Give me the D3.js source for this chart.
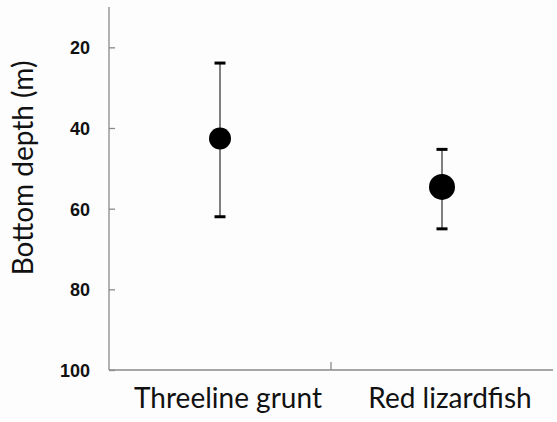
<!DOCTYPE html>
<html>
<head>
<meta charset="utf-8">
<script src="https://cdn.jsdelivr.net/npm/d3@7"></script>
<style>
  body { margin: 0; background: #fdfdfd; }
  svg { display: block; }
</style>
</head>
<body>
<div id="chart"></div>
<script>
// data
const species = ["Threeline grunt", "Red lizardfish"];
const meanDepth = [42.6, 54.6];
const upperDepth = [23.9, 45.3];
const lowerDepth = [62.0, 65.0];
const markerRadius = [11, 13];
const yTicks = [20, 40, 60, 80, 100];

const width = 557, height = 422;
const margin = { left: 109, right: 4, top: 7, bottom: 52 };

const svg = d3.select("#chart").append("svg")
  .attr("width", width)
  .attr("height", height);

const x = d3.scaleBand()
  .domain(species)
  .range([margin.left, width - margin.right]);

const y = d3.scaleLinear()
  .domain([10, 100])
  .range([margin.top, height - margin.bottom]);

const axisColor = "#8a8a8a";
const labelFont = "Lato, 'Open Sans', sans-serif";

// y axis, ticks pointing inward
const yAxis = svg.append("g")
  .attr("transform", "translate(" + margin.left + ",0)")
  .call(d3.axisRight(y).tickValues(yTicks).tickSize(6).tickFormat(d3.format("d")));
yAxis.select(".domain").attr("stroke", axisColor).attr("stroke-width", 1.3)
  .attr("d", "M0," + y(10) + "V" + y(100));
yAxis.selectAll(".tick line").attr("stroke", axisColor).attr("stroke-width", 1.3);
yAxis.selectAll(".tick text")
  .attr("x", -19)
  .attr("dy", "0.36em")
  .attr("text-anchor", "end")
  .style("font-family", "'Liberation Sans', Arial, sans-serif")
  .style("font-size", "18px")
  .style("font-weight", "bold")
  .style("fill", "#111");

// x axis with a single divider tick between categories
svg.append("line")
  .attr("x1", margin.left).attr("x2", width - margin.right)
  .attr("y1", y(100)).attr("y2", y(100))
  .attr("stroke", axisColor).attr("stroke-width", 1.3);
svg.append("line")
  .attr("x1", x(species[1])).attr("x2", x(species[1]))
  .attr("y1", y(100)).attr("y2", y(100) - 8)
  .attr("stroke", axisColor).attr("stroke-width", 1.3);

svg.selectAll(".xlab")
  .data(species)
  .enter().append("text")
  .attr("class", "xlab")
  .attr("x", d => x(d) + x.bandwidth() / 2 + 8)
  .attr("y", 408)
  .attr("text-anchor", "middle")
  .style("font-family", labelFont)
  .style("font-size", "28px")
  .style("fill", "#111")
  .text(d => d);

// y title
svg.append("text")
  .attr("transform", "translate(33,168) rotate(-90)")
  .attr("text-anchor", "middle")
  .style("font-family", labelFont)
  .style("font-size", "28px")
  .style("fill", "#111")
  .text("Bottom depth (m)");

// error bars and means
const pts = species.map((s, i) => ({ s: s, m: meanDepth[i], lo: upperDepth[i], hi: lowerDepth[i], r: markerRadius[i] }));

const g = svg.selectAll(".pt").data(pts).enter().append("g").attr("class", "pt");
g.append("line")
  .attr("x1", d => x(d.s) + x.bandwidth() / 2)
  .attr("x2", d => x(d.s) + x.bandwidth() / 2)
  .attr("y1", d => y(d.lo)).attr("y2", d => y(d.hi))
  .attr("stroke", "#555").attr("stroke-width", 1.5);
g.selectAll(".cap")
  .data(d => [d.lo, d.hi].map(v => ({ s: d.s, v: v })))
  .enter().append("rect")
  .attr("x", d => x(d.s) + x.bandwidth() / 2 - 5.5)
  .attr("y", d => y(d.v) - 1.5)
  .attr("width", 11).attr("height", 3)
  .attr("fill", "#000");
g.append("circle")
  .attr("cx", d => x(d.s) + x.bandwidth() / 2)
  .attr("cy", d => y(d.m))
  .attr("r", d => d.r)
  .attr("fill", "#000");
</script>
</body>
</html>
